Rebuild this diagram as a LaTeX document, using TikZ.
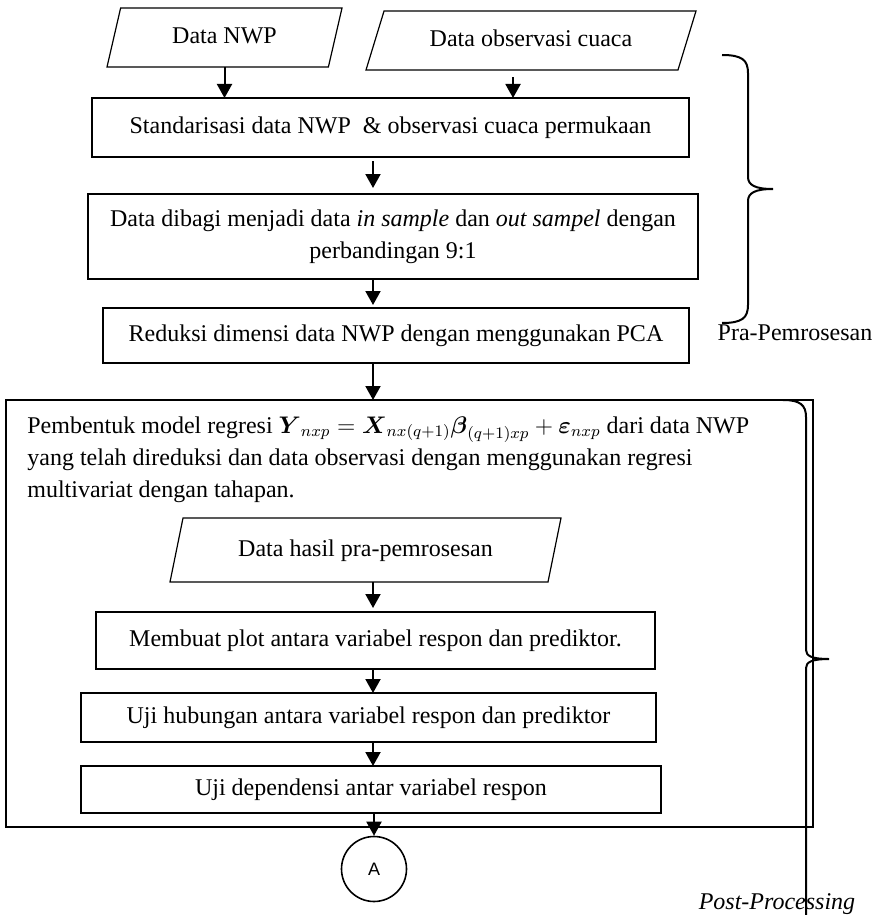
\documentclass[tikz,border=0pt]{standalone}
\usepackage{amsmath, amssymb}
\usepackage{fontspec}
\setmainfont{Liberation Serif}
\newfontfamily\arialfont{Liberation Sans}
\usetikzlibrary{shapes.geometric, arrows.meta}

\tikzset{
	every node/.style={font=\fontsize{12pt}{16pt}\selectfont},
	box/.style={draw, rectangle, line width=0.6pt, align=center, outer sep=0pt, inner sep=2pt},
	datain/.style={draw, trapezium, line width=0.6pt, trapezium left angle=77, trapezium right angle=103,
		trapezium stretches body=true, text height=9pt, text depth=3pt, inner xsep=2pt, inner ysep=8.75pt, outer sep=0pt},
	flow/.style={line width=1pt, -{Triangle[width=7.5pt,length=7pt]}},
	conn/.style={draw, circle, line width=0.8pt, minimum size=32.5pt, inner sep=0pt,
		font=\arialfont\fontsize{9pt}{9pt}\selectfont},
	brace/.style={line width=1pt}
}

\begin{document}
\begin{tikzpicture}[x=0.5pt, y=-0.5pt]
			\useasboundingbox (0,0) rectangle (883,915);
			\clip (0,0) rectangle (883,915);
			\coordinate (spine) at (373,0);

			% pra-pemrosesan
			\node [datain, minimum width=117.5pt] (nwp) at (224.5,37.5) {Data NWP};
			\node [datain, trapezium left angle=73, trapezium right angle=107, minimum width=165pt] (obs) at (531,40.5) {Data observasi cuaca};
			\node [box, minimum width=298.5pt, minimum height=29.5pt] (std) at (390.5,127.5) {Standarisasi data NWP\ \ \& observasi cuaca permukaan};
			\node [box, minimum width=305pt, minimum height=42.5pt] (split) at (393,236.5) {Data dibagi menjadi data \textit{in sample} dan \textit{out sampel} dengan\\ perbandingan 9:1};
			\node [box, minimum width=293pt, minimum height=27.5pt] (pca) at (396,335.5) {Reduksi dimensi data NWP dengan menggunakan PCA};

			% post-processing
			\node [box, minimum width=403.5pt, minimum height=213.5pt] (model) at (409.5,613.5) {};
			\node [anchor=north west, align=left, inner sep=0pt] (modeltxt) at ([xshift=10.5pt, yshift=-8pt]model.north west) {Pembentuk model regresi $\boldsymbol{Y}_{nxp}=\boldsymbol{X}_{nx(q+1)}\boldsymbol{\beta}_{(q+1)xp}+\boldsymbol{\varepsilon}_{nxp}$ dari data NWP\\ yang telah direduksi dan data observasi dengan menggunakan regresi\\ multivariat dengan tahapan.};
			\node [datain, trapezium left angle=78.5, trapezium right angle=101.5, inner ysep=10pt, minimum width=195.5pt] (hasil) at (365.5,550) {Data hasil pra-pemrosesan};
			\node [box, minimum width=279.5pt, minimum height=28.5pt] (plot) at (375.5,640.5) {Membuat plot antara variabel respon dan prediktor.};
			\node [box, minimum width=287.5pt, minimum height=24.5pt] (hub) at (368.5,717.5) {Uji hubungan antara variabel respon dan prediktor};
			\node [box, minimum width=290pt, minimum height=23.5pt] (dep) at (371,789.5) {Uji dependensi antar variabel respon};
			\node [conn] (conA) at (374,869) {A};

			\draw [flow] (nwp.south) to (nwp.south |- std.north);
			\draw [flow, shorten <=3.5pt] ([xshift=-9pt]obs.south) to ([xshift=-9pt]obs.south |- std.north);
			\draw [flow, shorten <=2pt, shorten >=3pt] (std.south -| spine) to (split.north -| spine);
			\draw [flow, shorten >=1.5pt] (split.south -| spine) to (pca.north -| spine);
			\draw [flow] (pca.south -| spine) to (model.north -| spine);
			\draw [flow, shorten >=2pt] (hasil.south -| spine) to (plot.north -| spine);
			\draw [flow] (plot.south -| spine) to (hub.north -| spine);
			\draw [flow] (hub.south -| spine) to (dep.north -| spine);
			\draw [flow] (dep.south -| conA) to (conA.north);

			% kurung kurawal
			\draw [brace] (722,55) .. controls (742,55) and (748,60) .. (748,73) -- (748,177)
				.. controls (748,185) and (755,189) .. (773,189)
				.. controls (755,189) and (748,193) .. (748,201) -- (748,305)
				.. controls (748,318) and (742,323) .. (722,323);
			\node (prelbl) at (795,333) {Pra-Pemrosesan};

			\draw [brace] (783,400) .. controls (800,400) and (806,405) .. (806,417) -- (806,650)
				.. controls (806,656) and (812,659) .. (829,659)
				.. controls (812,659) and (806,662) .. (806,668) -- (806,925)
				.. controls (806,937) and (800,942) .. (783,942);
			\node (postlbl) at (777,904) {\textit{Post-Processing}};
		\end{tikzpicture}
\end{document}
